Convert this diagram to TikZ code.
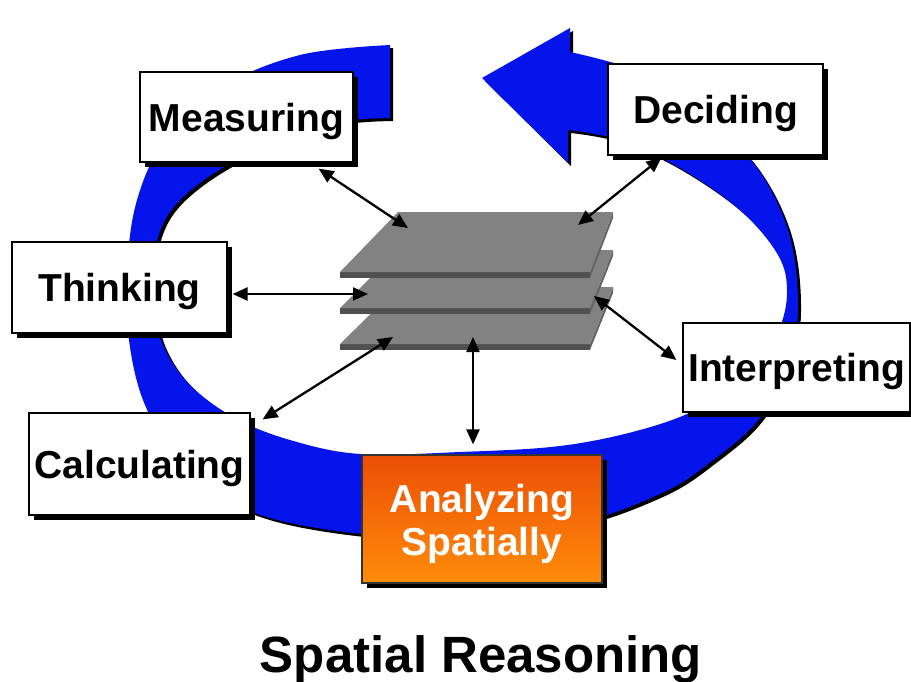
\documentclass[tikz,border=0pt]{standalone}
\usepackage{fontspec}
\setmainfont{Liberation Sans}
\usetikzlibrary{arrows.meta,shadows,calc}
\definecolor{ringblue}{RGB}{5,20,235}
\definecolor{platetop}{RGB}{130,130,130}
\definecolor{platefront}{RGB}{80,80,80}
\definecolor{plateside}{RGB}{100,100,100}
\definecolor{orTop}{RGB}{236,78,5}
\definecolor{orBot}{RGB}{255,140,10}
\newcommand\ringshape{plot[smooth,tension=0.6] coordinates {(390,45) (300,55) (220,88) (165,140) (137,200) (127,270) (129,340) (145,405) (180,460) (240,507) (330,530) (450,538) (570,525) (660,494) (712,461) (760,418) (790,360) (798,300) (788,230) (755,165) (700,110) (640,72) (570,52)} -- (570,28) -- (482,78) -- (568,163) -- (568,130) -- plot[smooth,tension=0.6] coordinates {(568,130) (620,140) (680,168) (740,210) (778,255) (787,292) (778,332) (750,375) (700,408) (640,430) (560,446) (460,452) (360,454) (290,440) (235,418) (190,385) (163,345) (153,300) (154,255) (168,215) (200,183) (250,153) (310,128) (353,120) (390,118)} -- cycle}
\newcommand\oneplate[3]{% back y, front y, thickness
  \fill[platefront] (340,#2) -- (590,#2) -- (590,#2+#3) -- (340,#2+#3) -- cycle;
  \fill[plateside] (613,#1) -- (613,#1+#3) -- (590,#2+#3) -- (590,#2) -- cycle;
  \fill[platetop] (398,#1) -- (613,#1) -- (590,#2) -- (340,#2) -- cycle;
}
\tikzset{
  labelbox/.style={draw=black, line width=1.2pt, fill=white, inner sep=0pt,
    text height=28pt, text depth=0pt,
    font=\fontsize{39}{43}\selectfont\bfseries,
    drop shadow={shadow xshift=4.5pt, shadow yshift=-4.5pt, fill=black, opacity=1}},
  link/.style={line width=2.3pt, <->, >={Triangle[length=15pt,width=13pt]}},
  bigtxt/.style={font=\fontsize{39}{43}\selectfont\bfseries, anchor=base, inner sep=0pt},
}
\begin{document}
\begin{tikzpicture}[x=1pt,y=-1pt]
\useasboundingbox[fill=white] (0,0) rectangle (911,681);
% blue ring arrow with black shadow
\fill[black, shift={(3,3)}] \ringshape;
\fill[ringblue] \ringshape;
% stack of plates
\oneplate{287}{344}{6}
\oneplate{250}{308}{6}
\oneplate{212}{272}{6}
\coordinate (pm) at (408,228);
\coordinate (pd) at (578,225);
\coordinate (pt) at (368,294);
\coordinate (pi) at (594,296);
\coordinate (pc) at (393,337);
\coordinate (pa) at (473,337);
% boxes
\node[labelbox, minimum width=213pt, minimum height=90pt] (meas) at (246.5,117) {Measuring};
\node[labelbox, minimum width=215pt, minimum height=91pt] (dec) at (715.5,109.5) {Deciding};
\node[labelbox, minimum width=215pt, minimum height=91pt] (think) at (119.5,287.5) {Thinking};
\node[labelbox, minimum width=221pt, minimum height=102pt] (calc) at (139.5,464) {Calculating};
\node[labelbox, minimum width=227pt, minimum height=89pt] (interp) at (796.5,367.5) {Interpreting};
\node[draw=black!80, line width=1.2pt, top color=orTop, bottom color=orBot,
      minimum width=240pt, minimum height=128pt, inner sep=0pt,
      drop shadow={shadow xshift=4.5pt, shadow yshift=-4.5pt, fill=black, opacity=1}] (anal) at (482,519) {};
\node[bigtxt, text=white] (an1) at (482,512) {Analyzing};
\node[bigtxt, text=white] (an2) at (482,555) {Spatially};
% connectors
\draw[link] ($(meas.south east)+(-35,6)$) -- (pm);
\draw[link] ($(dec.south west)+(54,2)$) -- (pd);
\draw[link] ($(think.east)+(5,6.5)$) -- (pt);
\draw[link] ($(interp.west)+(-6,-7.5)$) -- (pi);
\draw[link] ($(calc.north east)+(12,7)$) -- (pc);
\draw[link] ($(anal.north)+(-9,-10)$) -- (pa);
% title
\node[font=\fontsize{51}{55}\selectfont\bfseries, anchor=base, inner sep=0pt] (title) at (481,672) {Spatial Reasoning};
\end{tikzpicture}
\end{document}
